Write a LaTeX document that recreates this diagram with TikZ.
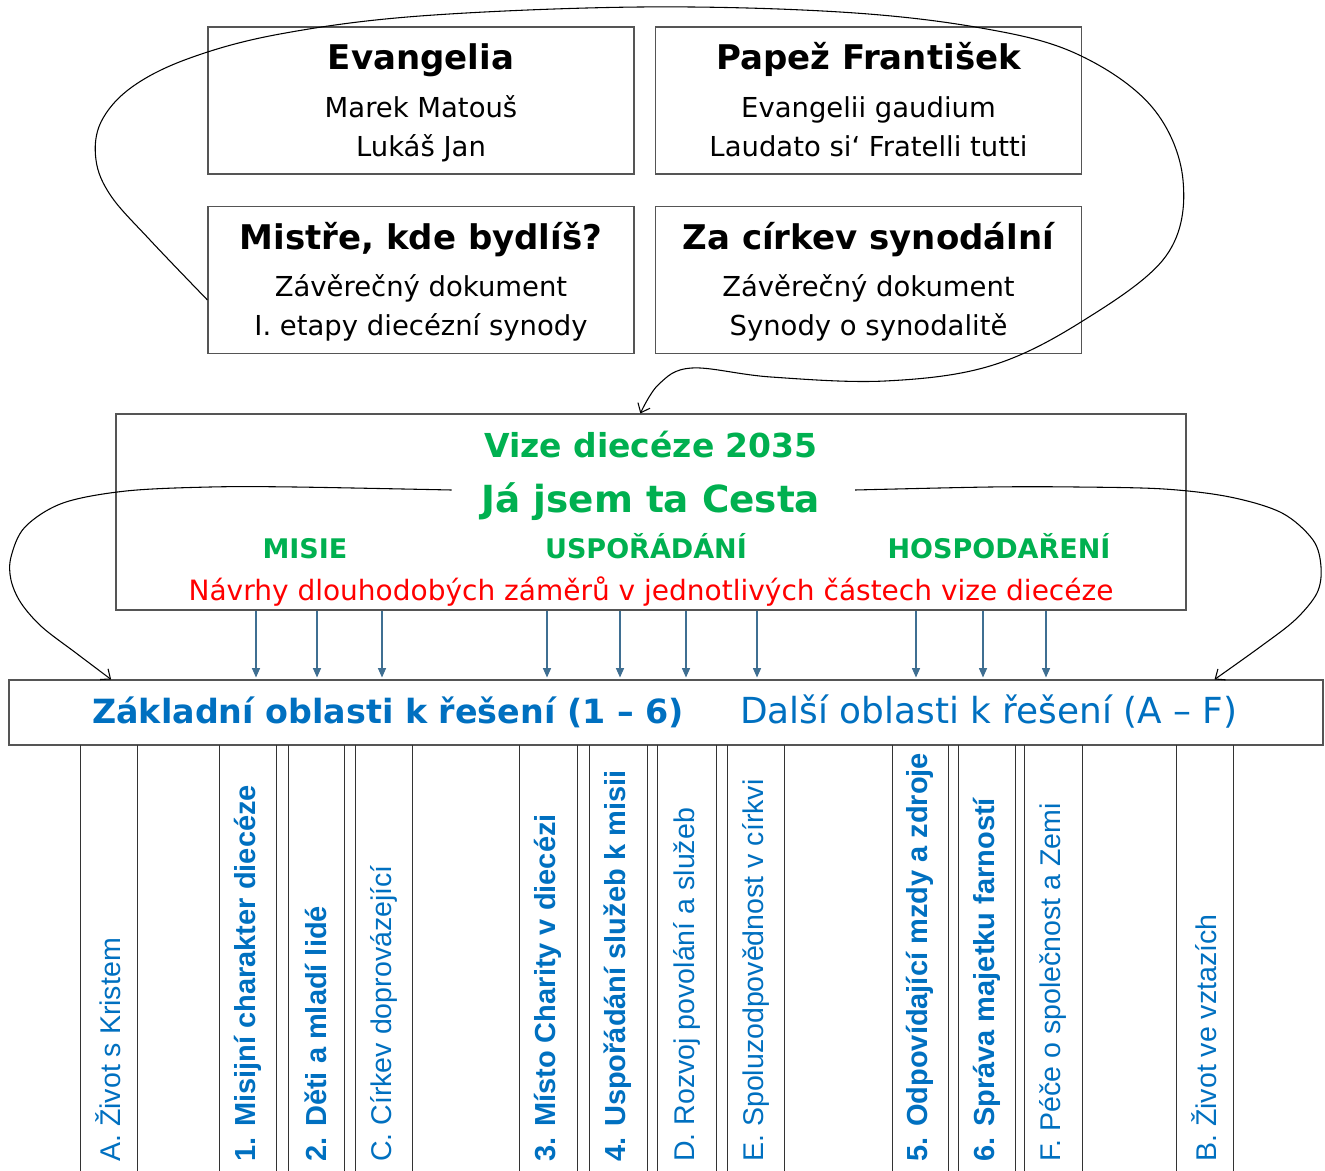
\documentclass[tikz,border=0pt]{standalone}
\usepackage{fontspec}
\setmainfont{DejaVu Sans}
\newfontfamily\colfont{Liberation Sans}
\usetikzlibrary{arrows.meta}
\definecolor{offblue}{HTML}{0070C0}
\definecolor{offgreen}{HTML}{00B050}
\definecolor{offred}{HTML}{FF0000}
\definecolor{arrblue}{HTML}{3F6F92}
\definecolor{boxgray}{HTML}{555555}
\definecolor{colgray}{HTML}{333333}
\tikzset{
  srcbox/.style={draw=boxgray, line width=0.8pt, minimum width=319.5pt, minimum height=110.25pt, inner sep=0pt},
  bigbox/.style={draw=boxgray, line width=0.8pt, inner sep=0pt},
  txt/.style={inner sep=0pt, anchor=base},
  ttl/.style={txt, font=\bfseries\fontsize{25.5pt}{30pt}\selectfont},
  body/.style={txt, font=\fontsize{20.6pt}{24pt}\selectfont},
  vize/.style={txt, text=offgreen, font=\bfseries\fontsize{24.75pt}{30pt}\selectfont},
  cesta/.style={txt, text=offgreen, font=\bfseries\fontsize{28pt}{32pt}\selectfont},
  sect/.style={txt, text=offgreen, font=\bfseries\fontsize{20.25pt}{24pt}\selectfont},
  navrh/.style={txt, text=offred, font=\fontsize{21pt}{24pt}\selectfont},
  zakl/.style={inner sep=0pt, anchor=base west, text=offblue, font=\bfseries\fontsize{25pt}{30pt}\selectfont},
  dalsi/.style={inner sep=0pt, anchor=base west, text=offblue, font=\fontsize{26.9pt}{30pt}\selectfont},
  coltxt/.style={inner sep=0pt, rotate=90, anchor=west, text=offblue},
  colb/.style={coltxt, font=\colfont\bfseries\fontsize{21.75pt}{26pt}\selectfont},
  colr/.style={coltxt, font=\colfont\fontsize{21.4pt}{26pt}\selectfont},
  colline/.style={draw=colgray, line width=0.7pt},
  bluearr/.style={draw=arrblue, line width=0.9pt, -{Triangle[length=7pt,width=6pt]}, shorten >=1.5pt},
  curvearr/.style={draw=black, line width=0.8pt, -{Straight Barb[length=6pt,width=10pt]}},
}
\begin{document}
\begin{tikzpicture}[x=0.75pt,y=-0.75pt]
\useasboundingbox (0,0) rectangle (1325,1171);
\fill[white] (0,0) rectangle (1325,1171);

% source boxes
\node[srcbox] (evang) at (421,100.5) {};
\node[srcbox] (papez) at (868.5,100.5) {};
\node[srcbox] (mistre) at (421,280) {};
\node[srcbox] (cirkev) at (868.5,280) {};

\node[ttl] (t1) at (421,69) {Evangelia};
\node[body] (t1a) at (421,117) {Marek Matouš};
\node[body] (t1b) at (421,156) {Lukáš Jan};

\node[ttl] (t2) at (868.5,69) {Papež František};
\node[body] (t2a) at (868.5,117) {Evangelii gaudium};
\node[body] (t2b) at (868.5,156) {Laudato si‘ Fratelli tutti};

\node[ttl] (t3) at (421,249) {Mistře, kde bydlíš?};
\node[body] (t3a) at (421,296) {Závěrečný dokument};
\node[body] (t3b) at (421,335) {I. etapy diecézní synody};

\node[ttl] (t4) at (868.5,249) {Za církev synodální};
\node[body] (t4a) at (868.5,296) {Závěrečný dokument};
\node[body] (t4b) at (868.5,335) {Synody o synodalitě};

% vision box
\node[bigbox, minimum width=802.5pt, minimum height=147pt] (vizebox) at (651,512) {};
\node[vize] (vt) at (651,457) {Vize diecéze 2035};
\node[cesta] (cesta) at (651,512) {Já jsem ta Cesta};
\node[sect] (misie) at (305,558) {MISIE};
\node[sect] (uspo) at (646,558) {USPOŘÁDÁNÍ};
\node[sect] (hosp) at (999,558) {HOSPODAŘENÍ};
\node[navrh] (navrhy) at (651,600) {Návrhy dlouhodobých záměrů v jednotlivých částech vize diecéze};

% areas box
\node[bigbox, minimum width=985.5pt, minimum height=48.75pt] (zaklbox) at (666,712.5) {};
\node[zakl] (zt) at (92,723) {Základní oblasti k řešení (1 – 6)};
\node[dalsi] (dt) at (740,723) {Další oblasti k řešení (A – F)};

% columns
\foreach \a/\b in {80/137,219/276,288/344,355/412,519/577,589/647,657/716,727/784,892/948,958/1015,1024/1082,1176/1233}{
  \draw[colline] (\a,745) -- (\a,1180);
  \draw[colline] (\b,745) -- (\b,1180);
}
\node[colr] (cA) at (108.5,1162) {A. Život s Kristem};
\node[colb] (c1) at (247.5,1162) {1. Misijní charakter diecéze};
\node[colb] (c2) at (316,1162) {2. Děti a mladí lidé};
\node[colr] (cC) at (383.5,1162) {C. Církev doprovázející};
\node[colb] (c3) at (548,1162) {3. Místo Charity v diecézi};
\node[colb] (c4) at (618,1162) {4. Uspořádání služeb k misii};
\node[colr] (cD) at (686.5,1162) {D. Rozvoj povolání a služeb};
\node[colr] (cE) at (755.5,1162) {E. Spoluzodpovědnost v církvi};
\node[colb] (c5) at (920,1162) {5. Odpovídající mzdy a zdroje};
\node[colb] (c6) at (986.5,1162) {6. Správa majetku farností};
\node[colr] (cF) at (1053,1162) {F. Péče o společnost a Zemi};
\node[colr] (cB) at (1204.5,1162) {B. Život ve vztazích};

% blue arrows
\foreach \x in {256,317,382,547,620,686,757,916,983,1046}{
  \coordinate (ax) at (\x,0);
  \draw[bluearr] (vizebox.south -| ax) -- (zaklbox.north -| ax);
}

% big loop around sources
\draw[curvearr] plot[smooth, tension=0.6] coordinates {
  ([yshift=-15pt]mistre.west) (150,240) (111,196) (96,160) (101,122) (132,87) (190,58) (280,34) (420,16) (640,7) (840,12) (981,28) (1077,54) (1152,107) (1183,180) (1166,256) (1081,322) (990,366) (885,381) (771,377) (692,368) (659,384) ([xshift=-8pt]vizebox.north)};

% left curve
\draw[curvearr] plot[smooth, tension=0.55] coordinates {
  ([shift={(-22.5pt,16.5pt)}]cesta.base west) (295,487) (210,487) (126,491) (63,503) (25,527) (11,557) (11,580) (21,603) (42,627) (76,653) ([xshift=77pt]zaklbox.north west)};

% right curve
\draw[curvearr] plot[smooth, tension=0.55] coordinates {
  ([shift={(26pt,16.5pt)}]cesta.base east) (990,487) (1077,487) (1164,489) (1230,497) (1282,513) (1313,540) (1321,567) (1317,593) (1295,620) (1260,647) ([xshift=-81.75pt]zaklbox.north east)};
\end{tikzpicture}
\end{document}
